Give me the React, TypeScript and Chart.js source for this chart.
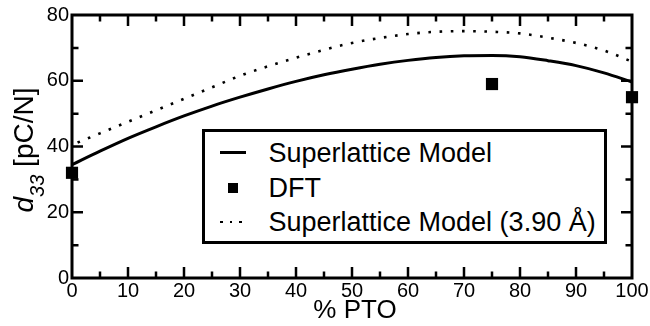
import React, { useEffect, useRef } from "react";
import { Chart, registerables } from "chart.js";

Chart.register(...registerables);

// ---- data ----
const pctPTO = [0, 5, 10, 15, 20, 25, 30, 35, 40, 45, 50, 55, 60, 65, 70, 75, 80, 85, 90, 95, 100];
const superlatticeModel = [34.5, 38.6, 42.5, 46.0, 49.3, 52.3, 55.0, 57.5, 59.8, 61.8, 63.5, 65.0, 66.2, 67.1, 67.6, 67.7, 67.3, 66.1, 64.6, 62.4, 59.6];
const superlatticeModel390 = [40.5, 44.0, 47.5, 51.0, 54.5, 58.0, 61.5, 64.4, 67.0, 69.4, 71.5, 73.0, 74.2, 74.9, 75.1, 74.9, 74.4, 73.1, 71.5, 69.2, 65.8];
const dftPTO = [0, 75, 100];
const dftD33 = [32, 59, 55];

const xMin = 0, xMax = 100, xStep = 10, xMinorStep = 5;
const yMin = 0, yMax = 80, yStep = 20, yMinorStep = 10;

const legendLabels = ["Superlattice Model", "DFT", "Superlattice Model (3.90 Å)"];
const xTitle = "% PTO";

const FONT = "'Liberation Sans', Arial, Helvetica, sans-serif";

const frameTicks = {
  id: "frameTicks",
  afterDatasetsDraw(chart: any) {
    const { ctx, chartArea } = chart;
    const { left, right, top, bottom } = chartArea;
    const xs = chart.scales.x;
    const ys = chart.scales.y;
    ctx.save();
    ctx.strokeStyle = "#000";
    ctx.lineCap = "butt";
    ctx.lineWidth = 2.5;
    ctx.beginPath();
    for (let v = xMin + xMinorStep; v < xMax; v += xMinorStep) {
      const len = v % xStep === 0 ? 11 : 6.5;
      const px = xs.getPixelForValue(v);
      ctx.moveTo(px, bottom);
      ctx.lineTo(px, bottom - len);
      ctx.moveTo(px, top);
      ctx.lineTo(px, top + len);
    }
    for (let v = yMin + yMinorStep; v < yMax; v += yMinorStep) {
      const len = v % yStep === 0 ? 11 : 6.5;
      const py = ys.getPixelForValue(v);
      ctx.moveTo(left, py);
      ctx.lineTo(left + len, py);
      ctx.moveTo(right, py);
      ctx.lineTo(right - len, py);
    }
    ctx.stroke();
    ctx.lineWidth = 3;
    ctx.strokeRect(left, top, right - left, bottom - top);
    ctx.restore();
  },
};

export default function App() {
  const canvasRef = useRef<HTMLCanvasElement | null>(null);

  useEffect(() => {
    const canvas = canvasRef.current;
    if (!canvas) return;
    const chart = new Chart(canvas, {
      type: "scatter",
      data: {
        datasets: [
          {
            label: legendLabels[0],
            data: pctPTO.map((x, i) => ({ x, y: superlatticeModel[i] })),
            showLine: true,
            borderColor: "#000",
            borderWidth: 3,
            pointRadius: 0,
            cubicInterpolationMode: "monotone",
            fill: false,
          },
          {
            label: legendLabels[1],
            data: dftPTO.map((x, i) => ({ x, y: dftD33[i] })),
            showLine: false,
            pointStyle: "rect",
            pointRadius: 8.6,
            backgroundColor: "#000",
            borderWidth: 0,
            clip: false,
          },
          {
            label: legendLabels[2],
            data: pctPTO.map((x, i) => ({ x, y: superlatticeModel390[i] })),
            showLine: true,
            borderColor: "#000",
            borderWidth: 2.6,
            borderDash: [2.6, 8.6],
            borderDashOffset: -6,
            pointRadius: 0,
            cubicInterpolationMode: "monotone",
            fill: false,
          },
        ],
      },
      options: {
        animation: false,
        responsive: false,
        devicePixelRatio: 1,
        layout: { padding: { top: 15, right: 18, left: 0, bottom: 0 } },
        plugins: {
          legend: { display: false },
          tooltip: { enabled: false },
        },
        scales: {
          x: {
            type: "linear",
            min: xMin,
            max: xMax,
            grid: { display: false, drawTicks: false, tickLength: 0 },
            border: { display: false },
            ticks: {
              stepSize: xStep,
              color: "#000",
              padding: 1,
              maxRotation: 0,
              font: { family: FONT, size: 20 },
            },
            afterFit: (s: any) => {
              s.height = 48;
              s.paddingLeft = 0;
              s.paddingRight = 0;
            },
          },
          y: {
            type: "linear",
            min: yMin,
            max: yMax,
            grid: { display: false, drawTicks: false, tickLength: 0 },
            border: { display: false },
            ticks: {
              stepSize: yStep,
              color: "#000",
              padding: 3,
              font: { family: FONT, size: 20 },
            },
            afterFit: (s: any) => {
              s.width = 72;
              s.paddingTop = 0;
              s.paddingBottom = 0;
            },
          },
        },
      },
      plugins: [frameTicks],
    } as any);
    return () => chart.destroy();
  }, []);

  const rowStyle = (center: number): React.CSSProperties => ({
    position: "absolute",
    left: 0,
    top: center - 130 - 15,
    height: 30,
    lineHeight: "30px",
    width: "100%",
  });
  const textStyle: React.CSSProperties = {
    position: "absolute",
    left: 64,
    top: 0,
    whiteSpace: "nowrap",
    fontSize: 27,
  };

  return (
    <div
      style={{
        position: "absolute",
        left: 0,
        top: 0,
        width: 650,
        height: 326,
        background: "#fff",
        fontFamily: FONT,
        color: "#000",
        overflow: "hidden",
      }}
    >
      <canvas ref={canvasRef} width={650} height={326} style={{ display: "block", width: 650, height: 326 }} />

      {/* y-axis title */}
      <div
        style={{
          position: "absolute",
          left: 24 - 100,
          top: 150 - 17,
          width: 200,
          height: 34,
          lineHeight: "34px",
          textAlign: "center",
          fontSize: 28,
          whiteSpace: "nowrap",
          transform: "rotate(-90deg)",
          transformOrigin: "50% 50%",
        }}
      >
        <i>d</i>
        <span style={{ fontSize: 20, fontStyle: "italic", position: "relative", top: 11 }}>33</span> [pC/N]
      </div>

      {/* x-axis title */}
      <div
        style={{
          position: "absolute",
          left: 355 - 100,
          top: 309 - 15,
          width: 200,
          height: 30,
          lineHeight: "30px",
          textAlign: "center",
          fontSize: 26,
          whiteSpace: "nowrap",
        }}
      >
        {xTitle}
      </div>

      {/* legend */}
      <div
        style={{
          position: "absolute",
          left: 203 - 1.5,
          top: 130 - 1.5,
          width: 608 - 203,
          height: 245 - 130,
          border: "3px solid #000",
          boxSizing: "border-box",
          background: "#fff",
        }}
      >
        <div style={rowStyle(151)}>
          <div style={{ position: "absolute", left: 15, top: 13.5, width: 26, height: 3, background: "#000" }} />
          <div style={textStyle}>{legendLabels[0]}</div>
        </div>
        <div style={rowStyle(186)}>
          <div style={{ position: "absolute", left: 23, top: 10.5, width: 10, height: 10, background: "#000" }} />
          <div style={textStyle}>{legendLabels[1]}</div>
        </div>
        <div style={rowStyle(220)}>
          {[15.5, 25, 34.5].map((dx) => (
            <div key={dx} style={{ position: "absolute", left: dx, top: 14, width: 2.6, height: 2.6, background: "#000" }} />
          ))}
          <div style={textStyle}>{legendLabels[2]}</div>
        </div>
      </div>
    </div>
  );
}
